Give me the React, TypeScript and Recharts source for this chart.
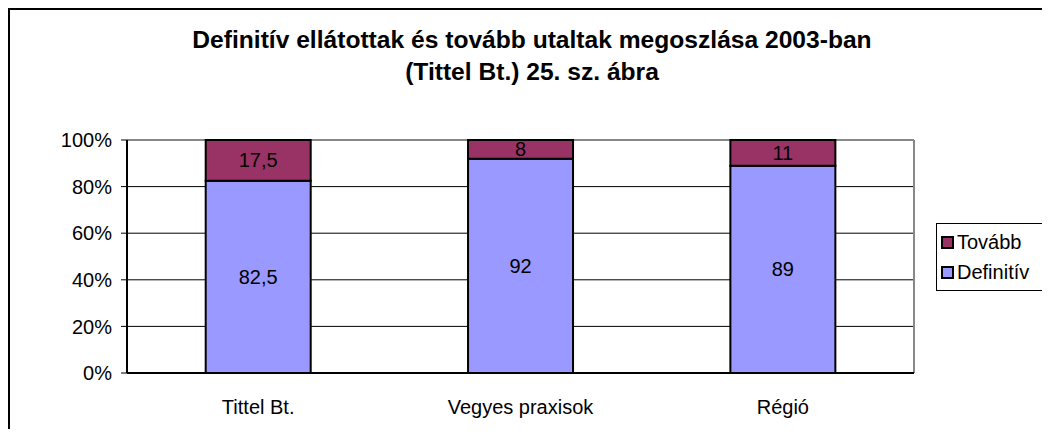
import { BarChart, Bar, XAxis, YAxis, Legend, LabelList, CartesianGrid } from "recharts";

/** --- Data --- */
const categories = ["Tittel Bt.", "Vegyes praxisok", "Régió"];
const definitiv = [82.5, 92, 89];
const tovabb = [17.5, 8, 11];
const yTicks = [0, 20, 40, 60, 80, 100];
const gridValues = [20, 40, 60, 80];
const edgeTicks = [0, 1, 2, 3];

const data = categories.map((name, i) => ({
  name,
  definitiv: definitiv[i],
  tovabb: tovabb[i],
  slot: i + 0.5,
}));

const FONT = "'Liberation Sans', Arial, sans-serif";

const fmt = (v: any) => String(v).replace(".", ",");

// y pixel for a value, via the axis scale when available
const yPix = (yAxis: any, offset: any, v: number) => {
  const s = yAxis?.scale;
  if (typeof s === "function") return s(v);
  if (s && typeof s.map === "function") return s.map(v);
  return offset.top + offset.height * (1 - v / 100);
};

const LegendBox = ({ payload }: any) => (
  <div style={{ paddingLeft: 22 }}>
    <div
      style={{
        width: 112,
        boxSizing: "border-box",
        border: "1px solid #000",
        padding: "3px 4px",
        fontFamily: FONT,
        fontSize: 20,
        background: "#fff",
      }}
    >
      {[...(payload || [])].reverse().map((item: any) => (
        <div key={item.value} style={{ display: "flex", alignItems: "center", height: 30 }}>
          <span
            style={{
              display: "inline-block",
              width: 9,
              height: 9,
              background: item.color,
              border: "2px solid #000",
              marginRight: 3,
            }}
          />
          {item.value}
        </div>
      ))}
    </div>
  </div>
);

export default function App() {
  return (
    <div
      style={{
        position: "relative",
        width: 1050,
        height: 437,
        margin: -8,
        overflow: "hidden",
        background: "#fff",
        fontFamily: FONT,
      }}
    >
      <div
        style={{
          position: "absolute",
          left: 8,
          top: 8,
          width: 1100,
          height: 500,
          border: "2px solid #000",
        }}
      />
      <div
        style={{
          position: "absolute",
          left: 0,
          top: 24,
          width: 1064,
          textAlign: "center",
          fontWeight: "bold",
          fontSize: 24.6,
          lineHeight: "32px",
        }}
      >
        Definitív ellátottak és tovább utaltak megoszlása 2003-ban
        <br />
        (Tittel Bt.) 25. sz. ábra
      </div>
      <div style={{ position: "absolute", left: 0, top: 0 }}>
        <BarChart
          width={1050}
          height={437}
          data={data}
          margin={{ top: 140, right: 2, bottom: 34, left: 67 }}
          barCategoryGap="30%"
        >
          <CartesianGrid
            vertical={false}
            stroke="#000"
            strokeWidth={1}
            horizontalCoordinatesGenerator={({ yAxis, offset }: any) =>
              gridValues.map((v) => yPix(yAxis, offset, v))
            }
          />
          <CartesianGrid
            stroke="#888"
            strokeWidth={2}
            horizontalCoordinatesGenerator={({ yAxis, offset }: any) => [yPix(yAxis, offset, 100)]}
            verticalCoordinatesGenerator={({ offset }: any) => [offset.left + offset.width]}
          />
          <XAxis
            xAxisId="edge"
            type="number"
            dataKey="slot"
            domain={[0, 3]}
            ticks={edgeTicks}
            tick={false}
            axisLine={false}
            tickLine={{ stroke: "#000", strokeWidth: 1 }}
            tickSize={7}
            height={0}
          />
          <XAxis
            dataKey="name"
            height={30}
            tickLine={false}
            tickSize={0}
            tickMargin={27}
            axisLine={{ stroke: "#000", strokeWidth: 2 }}
            tick={{ fill: "#000", fontSize: 20, fontFamily: FONT }}
          />
          <YAxis
            width={60}
            domain={[0, 100]}
            ticks={yTicks}
            tickFormatter={(v) => `${v}%`}
            axisLine={{ stroke: "#000", strokeWidth: 2 }}
            tickLine={{ stroke: "#000", strokeWidth: 1 }}
            tickSize={6}
            tickMargin={9}
            tick={{ fill: "#000", fontSize: 20, fontFamily: FONT }}
          />
          <Legend
            layout="vertical"
            align="right"
            verticalAlign="top"
            content={<LegendBox />}
            wrapperStyle={{ top: 223 }}
          />
          <Bar
            dataKey="definitiv"
            name="Definitív"
            stackId="a"
            fill="#9999FF"
            stroke="#000"
            strokeWidth={2}
            isAnimationActive={false}
          >
            <LabelList
              dataKey="definitiv"
              position="center"
              formatter={fmt}
              fill="#000"
              fontSize={20}
              fontFamily={FONT}
            />
          </Bar>
          <Bar
            dataKey="tovabb"
            name="Tovább"
            stackId="a"
            fill="#993366"
            stroke="#000"
            strokeWidth={2}
            isAnimationActive={false}
          >
            <LabelList
              dataKey="tovabb"
              position="center"
              formatter={fmt}
              fill="#000"
              fontSize={20}
              fontFamily={FONT}
            />
          </Bar>
        </BarChart>
      </div>
    </div>
  );
}
